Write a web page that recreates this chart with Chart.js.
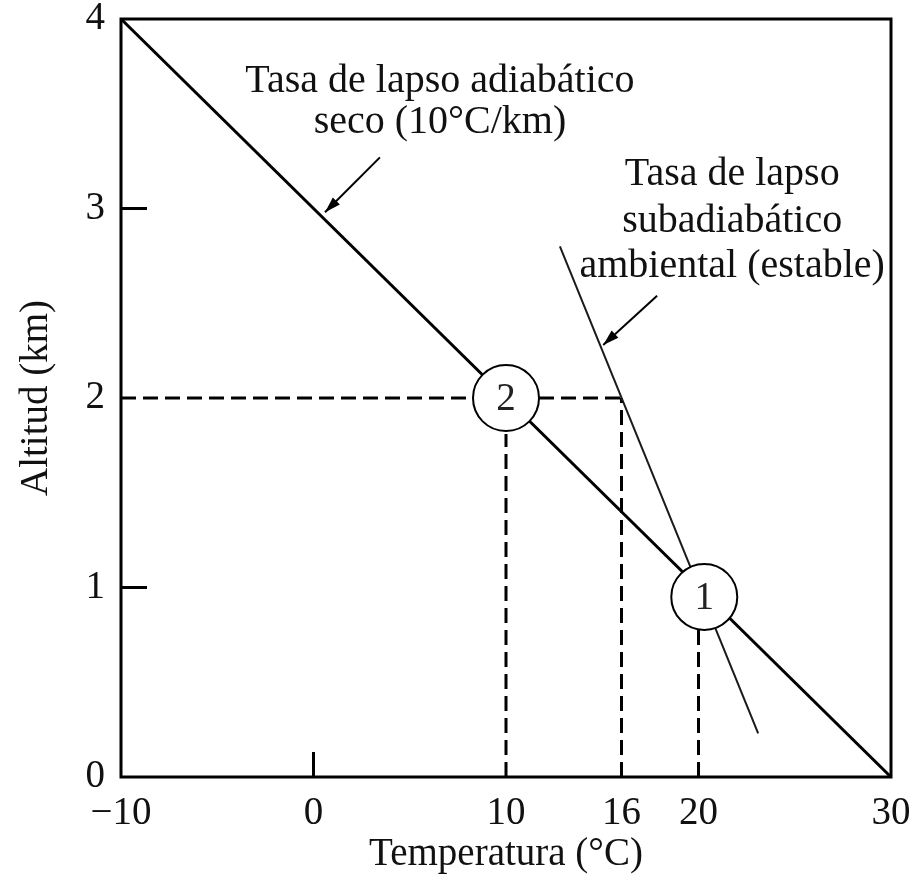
<!DOCTYPE html>
<html>
<head>
<meta charset="utf-8">
<script src="https://cdn.jsdelivr.net/npm/chart.js@4/dist/chart.umd.min.js"></script>
<style>
  html, body { margin: 0; padding: 0; background: #ffffff; }
  #wrap { width: 918px; height: 883px; }
</style>
</head>
<body>
<div id="wrap"><canvas id="lapseChart"></canvas></div>
<script>
const xTickValues = [-10, 0, 10, 16, 20, 30];
const yTickValues = [0, 1, 2, 3, 4];

// dry adiabatic lapse rate line
const dryTemp = [-10, 30];
const dryAlt = [4, 0];

// ambient (stable) lapse rate line
const envTemp = [12.8, 23.1];
const envAlt = [2.8, 0.23];

// dashed guides
const guide2Temp = [-10, 16];
const guide2Alt = [2, 2];
const guide10Temp = [10, 10];
const guide10Alt = [0, 1.81];
const guide16Temp = [16, 16];
const guide16Alt = [0, 2];
const guide20Temp = [20, 20];
const guide20Alt = [0, 0.78];

// parcel states
const parcelTemp = [10.0, 20.3];
const parcelAlt = [2.0, 0.95];
const parcelLabels = ['2', '1'];

// arrows (tail -> tip)
const arrowDryTemp = [3.45, 0.6];
const arrowDryAlt = [3.27, 2.98];
const arrowEnvTemp = [17.85, 15.05];
const arrowEnvAlt = [2.54, 2.28];

const noteDry = ['Tasa de lapso adiabático', 'seco (10°C/km)'];
const noteEnv = ['Tasa de lapso', 'subadiabático', 'ambiental (estable)'];

const SERIF = "'Liberation Serif', 'Times New Roman', serif";
const INK = '#000000';

function pts(xs, ys) {
  return xs.map((x, i) => ({ x, y: ys[i] }));
}

function lineSet(xs, ys, width, dash, extra) {
  return Object.assign({
    type: 'line',
    data: pts(xs, ys),
    borderColor: INK,
    borderWidth: width,
    borderDash: dash || [],
    pointRadius: 0,
    fill: false,
    tension: 0,
    order: 2,
  }, extra || {});
}

const framePlugin = {
  id: 'frame',
  beforeDatasetsDraw(chart) {
    const { ctx, chartArea: a, scales } = chart;
    ctx.save();
    ctx.strokeStyle = INK;
    ctx.lineWidth = 3;
    ctx.strokeRect(a.left, a.top, a.right - a.left, a.bottom - a.top);
    // inward tick marks (only where no guide covers them)
    ctx.beginPath();
    [0].forEach((v) => {
      const x = scales.x.getPixelForValue(v);
      ctx.moveTo(x, a.bottom);
      ctx.lineTo(x, a.bottom - 25);
    });
    [1, 3].forEach((v) => {
      const y = scales.y.getPixelForValue(v);
      ctx.moveTo(a.left, y);
      ctx.lineTo(a.left + 26, y);
    });
    ctx.stroke();
    ctx.restore();
  },
  afterDatasetsDraw(chart) {
    const { ctx, scales } = chart;
    ctx.save();
    // arrow heads
    chart.data.datasets.forEach((ds, i) => {
      if (!ds.isArrow) return;
      const els = chart.getDatasetMeta(i).data;
      const tail = els[0];
      const tip = els[els.length - 1];
      const ang = Math.atan2(tip.y - tail.y, tip.x - tail.x);
      const len = 16;
      const half = 5;
      ctx.fillStyle = INK;
      ctx.beginPath();
      ctx.moveTo(tip.x, tip.y);
      ctx.lineTo(tip.x - len * Math.cos(ang) + half * Math.sin(ang), tip.y - len * Math.sin(ang) - half * Math.cos(ang));
      ctx.lineTo(tip.x - len * Math.cos(ang) - half * Math.sin(ang), tip.y - len * Math.sin(ang) + half * Math.cos(ang));
      ctx.closePath();
      ctx.fill();
    });

    // numbers inside parcel circles
    ctx.fillStyle = '#222';
    ctx.font = `39px ${SERIF}`;
    ctx.textAlign = 'center';
    ctx.textBaseline = 'middle';
    parcelLabels.forEach((t, i) => {
      ctx.fillText(t, scales.x.getPixelForValue(parcelTemp[i]), scales.y.getPixelForValue(parcelAlt[i]) + 2);
    });

    // notes
    ctx.fillStyle = '#111';
    ctx.font = `40px ${SERIF}`;
    ctx.textBaseline = 'alphabetic';
    const dryBase = [3.615, 3.40];
    noteDry.forEach((t, i) => {
      ctx.fillText(t, scales.x.getPixelForValue(6.57), scales.y.getPixelForValue(dryBase[i]));
    });
    const envBase = [3.124, 2.876, 2.638];
    noteEnv.forEach((t, i) => {
      ctx.fillText(t, scales.x.getPixelForValue(21.75), scales.y.getPixelForValue(envBase[i]));
    });
    ctx.restore();
  },
};

new Chart(document.getElementById('lapseChart'), {
  type: 'scatter',
  data: {
    datasets: [
      {
        type: 'scatter',
        data: pts(parcelTemp, parcelAlt),
        pointRadius: 33,
        pointBackgroundColor: '#ffffff',
        pointBorderColor: INK,
        pointBorderWidth: 2,
        order: 0,
      },
      lineSet(dryTemp, dryAlt, 3),
      lineSet(envTemp, envAlt, 2, [], { borderColor: '#1a1a1a' }),
      lineSet(guide2Temp, guide2Alt, 3, [15, 7]),
      lineSet(guide10Temp, guide10Alt, 3, [15, 7]),
      lineSet(guide16Temp, guide16Alt, 3, [15, 7]),
      lineSet(guide20Temp, guide20Alt, 3, [15, 7]),
      lineSet(arrowDryTemp, arrowDryAlt, 2, [], { isArrow: true, order: 1 }),
      lineSet(arrowEnvTemp, arrowEnvAlt, 2, [], { isArrow: true, order: 1 }),
    ],
  },
  options: {
    responsive: true,
    maintainAspectRatio: false,
    animation: false,
    layout: { autoPadding: false, padding: { top: 19, right: 27, left: 0, bottom: 0 } },
    plugins: {
      legend: { display: false },
      tooltip: { enabled: false },
    },
    scales: {
      x: {
        type: 'linear',
        min: -10,
        max: 30,
        afterBuildTicks(scale) {
          scale.ticks = xTickValues.map((v) => ({ value: v }));
        },
        afterFit(scale) {
          scale.height = 106;
          scale.paddingLeft = 0;
          scale.paddingRight = 0;
        },
        grid: { display: false, drawTicks: false },
        border: { display: false },
        ticks: {
          color: '#111',
          font: { family: SERIF, size: 39 },
          padding: 13,
          maxRotation: 0,
          autoSkip: false,
          callback: (v) => (v < 0 ? '\u2212' + Math.abs(v) : String(v)),
        },
        title: {
          display: true,
          text: 'Temperatura (°C)',
          color: '#111',
          font: { family: SERIF, size: 39 },
          padding: { top: 0, bottom: 5 },
        },
      },
      y: {
        type: 'linear',
        min: 0,
        max: 4,
        afterBuildTicks(scale) {
          scale.ticks = yTickValues.map((v) => ({ value: v }));
        },
        afterFit(scale) {
          scale.width = 121;
          scale.paddingTop = 0;
          scale.paddingBottom = 0;
        },
        grid: { display: false, drawTicks: false },
        border: { display: false },
        ticks: {
          color: '#111',
          font: { family: SERIF, size: 39 },
          padding: 16,
        },
        title: {
          display: true,
          text: 'Altitud (km)',
          color: '#111',
          font: { family: SERIF, size: 39 },
          padding: { top: 13, bottom: 0 },
        },
      },
    },
  },
  plugins: [framePlugin],
});
</script>
</body>
</html>
